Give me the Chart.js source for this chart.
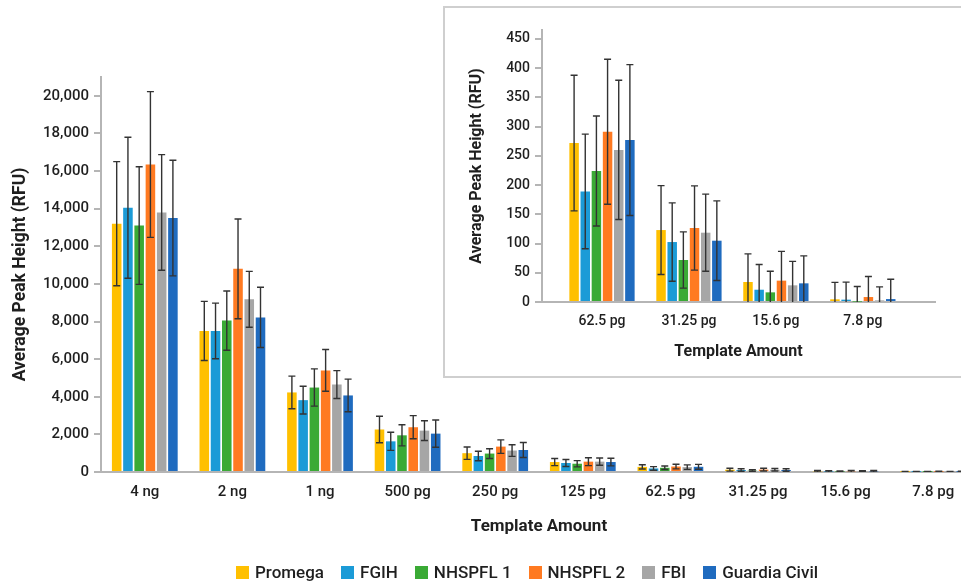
<!DOCTYPE html>
<html>
<head>
<meta charset="utf-8">
<script src="https://cdn.jsdelivr.net/npm/chart.js@4"></script>
<style>
    body { margin: 0; background: #fff; overflow: hidden; width: 961px; height: 583px; position: relative; font-family: Roboto, sans-serif; }
    #mainWrap { position: absolute; left: 0; top: 0; }
    #insetBox { position: absolute; left: 443px; top: 6px; width: 530px; height: 368px; border: 2px solid #cfcfcf; background: #fff; }
    #legend { position: absolute; left: 236px; top: 562px; display: flex; gap: 17px; font-size: 17px; font-weight: 500; color: #1f1f1f; }
    #legend .item { display: flex; align-items: center; }
    #legend .box { width: 13px; height: 13px; margin-right: 6px; }
</style>
</head>
<body>
<div id="mainWrap"><canvas id="mainChart" width="980" height="583"></canvas></div>
<div id="insetBox"><canvas id="insetChart" width="520" height="368"></canvas></div>
<div id="legend"></div>

<script>
const seriesNames = ['Promega', 'FGIH', 'NHSPFL 1', 'NHSPFL 2', 'FBI', 'Guardia Civil'];
const seriesColors = ['#FFC000', '#1B9BD7', '#3AAA35', '#FF7A21', '#A6A6A6', '#1F6BBF'];

// main chart: all template amounts
const mainLabels = ['4 ng', '2 ng', '1 ng', '500 pg', '250 pg', '125 pg', '62.5 pg', '31.25 pg', '15.6 pg', '7.8 pg'];
const promegaMean = [13200, 7500, 4230, 2260, 1000, 530, 272, 123, 34, 5];
const promegaSd = [3300, 1570, 865, 705, 330, 190, 116, 76, 48, 29];
const fgihMean = [14050, 7500, 3820, 1630, 850, 480, 189, 103, 21, 4];
const fgihSd = [3750, 1480, 740, 480, 250, 185, 98, 67, 43, 30];
const nhspfl1Mean = [13100, 8050, 4490, 1950, 980, 440, 224, 72, 17, 1];
const nhspfl1Sd = [3125, 1575, 990, 560, 260, 165, 94, 48, 36, 26];
const nhspfl2Mean = [16350, 10800, 5400, 2380, 1350, 550, 291, 127, 37, 9];
const nhspfl2Sd = [3875, 2650, 1110, 615, 360, 210, 124, 72, 50, 35];
const fbiMean = [13800, 9180, 4650, 2200, 1140, 550, 260, 119, 28, 3];
const fbiSd = [3075, 1485, 740, 525, 310, 195, 119, 66, 41, 23];
const guardiaMean = [13500, 8220, 4070, 2040, 1170, 530, 277, 105, 32, 5];
const guardiaSd = [3075, 1600, 870, 725, 400, 205, 129, 68, 47, 34];

// inset: lowest four amounts on their own scale
const insetLabels = ['62.5 pg', '31.25 pg', '15.6 pg', '7.8 pg'];
const insetPromega = [271.7, 123, 34.2, 4.6];
const insetPromegaSd = [116, 76, 48, 29];
const insetFgih = [189, 102.5, 21, 4];
const insetFgihSd = [98, 67, 43, 30];
const insetNhspfl1 = [224, 71.8, 16.5, 0.6];
const insetNhspfl1Sd = [94, 48, 36, 26];
const insetNhspfl2 = [291, 126.5, 36.5, 8.5];
const insetNhspfl2Sd = [124, 72, 50, 35];
const insetFbi = [260, 118.5, 28.5, 2.8];
const insetFbiSd = [119, 66, 41, 23];
const insetGuardia = [276.8, 104.8, 31.9, 5];
const insetGuardiaSd = [129, 68, 47, 34];

const mainTickValues = [0, 2000, 4000, 6000, 8000, 10000, 12000, 14000, 16000, 18000, 20000];
const insetTickValues = [0, 50, 100, 150, 200, 250, 300, 350, 400, 450];
const mainMax = 21000;
const insetMax = 465;

Chart.defaults.font.family = 'Roboto, sans-serif';
Chart.defaults.color = '#1f1f1f';

const axisGrey = '#b5b5b5';

// mean +/- sd whiskers, drawn with the chart's own scales
const errorBars = {
    id: 'errorBars',
    afterDatasetsDraw(chart) {
        const ctx = chart.ctx;
        const area = chart.chartArea;
        const yScale = chart.scales.y;
        ctx.save();
        ctx.beginPath();
        ctx.rect(area.left, area.top - 1, area.right - area.left, area.bottom - area.top + 1);
        ctx.clip();
        ctx.strokeStyle = '#333';
        ctx.lineWidth = 1.4;
        chart.data.datasets.forEach(function (ds, di) {
            const meta = chart.getDatasetMeta(di);
            meta.data.forEach(function (bar, i) {
                const val = meta.controller.getParsed(i).y;
                const err = ds.errors[i];
                const yTop = yScale.getPixelForValue(val + err);
                const yBot = yScale.getPixelForValue(val - err);
                ctx.beginPath();
                ctx.moveTo(bar.x, yTop);
                ctx.lineTo(bar.x, yBot);
                ctx.moveTo(bar.x - 3.5, yTop);
                ctx.lineTo(bar.x + 3.5, yTop);
                ctx.moveTo(bar.x - 3.5, yBot);
                ctx.lineTo(bar.x + 3.5, yBot);
                ctx.stroke();
            });
        });
        ctx.restore();
    }
};

function makeDatasets(means, sds, toPoint) {
    return seriesNames.map(function (name, k) {
        return {
            label: name,
            data: toPoint ? means[k].map((v, i) => ({ x: i, y: v })) : means[k],
            errors: sds[k],
            backgroundColor: seriesColors[k],
            borderWidth: 0,
            categoryPercentage: 0.77,
            barPercentage: 0.85
        };
    });
}

function yAxis(max, tickValues, width, tickSize, titleSize, titlePad) {
    return {
        min: 0,
        max: max,
        afterFit: s => { s.width = width; },
        afterBuildTicks: s => { s.ticks = tickValues.map(v => ({ value: v })); },
        border: { color: axisGrey, width: 2 },
        grid: { drawOnChartArea: false, drawTicks: true, tickLength: 7, color: axisGrey, lineWidth: 2 },
        ticks: { padding: 5, font: { size: tickSize, weight: 500 }, color: '#1f1f1f' },
        title: { display: true, text: 'Average Peak Height (RFU)', font: { size: titleSize, weight: 'bold' }, color: '#1f1f1f', padding: { top: titlePad, bottom: 0 } }
    };
}

new Chart(document.getElementById('mainChart'), {
    type: 'bar',
    data: {
        labels: mainLabels,
        datasets: makeDatasets(
            [promegaMean, fgihMean, nhspfl1Mean, nhspfl2Mean, fbiMean, guardiaMean],
            [promegaSd, fgihSd, nhspfl1Sd, nhspfl2Sd, fbiSd, guardiaSd],
            false)
    },
    options: {
        responsive: false,
        animation: false,
        devicePixelRatio: 1,
        layout: { padding: { top: 77, right: 3, bottom: 41, left: 0 } },
        plugins: { legend: { display: false }, tooltip: { enabled: false } },
        scales: {
            x: {
                afterFit: s => { s.height = 70; },
                border: { color: axisGrey, width: 2 },
                grid: { display: false, drawTicks: false },
                ticks: { padding: 11, maxRotation: 0, autoSkip: false, font: { size: 15, weight: 500 }, color: '#1f1f1f' },
                title: { display: true, text: 'Template Amount', font: { size: 17, weight: 'bold' }, color: '#1f1f1f', padding: { top: 0, bottom: 5 } }
            },
            y: yAxis(mainMax, mainTickValues, 101, 15, 17.5, 10)
        }
    },
    plugins: [errorBars]
});

new Chart(document.getElementById('insetChart'), {
    type: 'bar',
    data: {
        datasets: makeDatasets(
            [insetPromega, insetFgih, insetNhspfl1, insetNhspfl2, insetFbi, insetGuardia],
            [insetPromegaSd, insetFgihSd, insetNhspfl1Sd, insetNhspfl2Sd, insetFbiSd, insetGuardiaSd],
            true)
    },
    options: {
        responsive: false,
        animation: false,
        devicePixelRatio: 1,
        layout: { padding: { top: 22, right: 30, bottom: 14, left: 0 } },
        plugins: { legend: { display: false }, tooltip: { enabled: false } },
        scales: {
            x: {
                type: 'linear',
                min: -0.69,
                max: 3.83,
                offset: false,
                afterFit: s => { s.height = 60; },
                afterBuildTicks: s => { s.ticks = insetLabels.map((l, i) => ({ value: i })); },
                border: { color: axisGrey, width: 2 },
                grid: { display: false, drawTicks: false },
                ticks: {
                    padding: 11,
                    maxRotation: 0,
                    font: { size: 14, weight: 500 },
                    color: '#1f1f1f',
                    callback: v => insetLabels[v] || ''
                },
                title: { display: true, text: 'Template Amount', font: { size: 16, weight: 'bold' }, color: '#1f1f1f', padding: { top: 0, bottom: 0 } }
            },
            y: yAxis(insetMax, insetTickValues, 97, 14, 16, 22)
        }
    },
    plugins: [errorBars]
});

// legend built from the same names and colours
const legendEl = document.getElementById('legend');
seriesNames.forEach(function (name, k) {
    const item = document.createElement('div');
    item.className = 'item';
    const box = document.createElement('span');
    box.className = 'box';
    box.style.background = seriesColors[k];
    item.appendChild(box);
    item.appendChild(document.createTextNode(name));
    legendEl.appendChild(item);
});
</script>
</body>
</html>
